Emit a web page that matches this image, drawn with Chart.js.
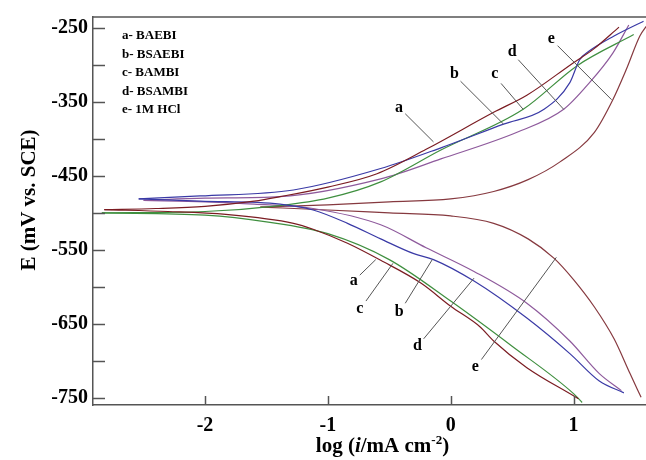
<!DOCTYPE html>
<html>
<head>
<meta charset="utf-8">
<script src="https://cdn.jsdelivr.net/npm/chart.js@4.4.1/dist/chart.umd.min.js"></script>
<style>
  html, body { margin: 0; padding: 0; background: #fff; }
  #wrap { width: 646px; height: 460px; }
</style>
</head>
<body>
<div id="wrap"><canvas id="tafel"></canvas></div>
<script>
// ---------- Data (log i in mA cm-2, E in mV vs SCE) ----------
// each curve = cathodic branch + anodic branch, both starting at Ecorr
var aCathLogI = [-2.82, -2.3, -1.83, -1.28, -1.12, -0.84, -0.57, -0.24, 0, 0.24, 0.35, 0.62, 1.0, 1.04];
var aCathE    = [-495.6, -498, -502, -514, -522, -541, -564, -595, -626, -654, -673, -709, -747, -751];
var aAnodLogI = [-2.82, -2.4, -2.0, -1.6, -1.39, -1.0, -0.6, -0.2, 0.35, 0.62, 1.0, 1.16, 1.37];
var aAnodE    = [-495.6, -494, -491, -484, -478, -465, -447, -414, -364, -341, -297, -279, -249];

var bCathLogI = [-2.54, -2.04, -1.39, -1.12, -0.84, -0.57, -0.30, -0.14, 0.19, 0.62, 0.97, 1.21, 1.41];
var bCathE    = [-481, -484, -488, -496, -514, -535, -555, -563, -592, -642, -690, -727, -743];
var bAnodLogI = [-2.54, -2.04, -1.28, -0.57, -0.08, 0.43, 0.76, 0.97, 1.05, 1.13, 1.33, 1.57];
var bAnodE    = [-481, -477, -469, -440, -412, -380, -360, -324, -293, -281, -261, -241];

var cCathLogI = [-2.84, -2.0, -1.5, -1.0, -0.5, 0, 0.5, 1.0, 1.07];
var cCathE    = [-500, -503, -512, -528, -563, -619, -680, -744, -756];
var cAnodLogI = [-2.84, -2.0, -1.39, -1.0, -0.57, -0.08, 0.59, 1.03, 1.49];
var cAnodE    = [-500, -498, -490, -480, -458, -415, -360, -301, -259];

var dCathLogI = [-2.5, -2.0, -1.6, -1.12, -0.57, -0.2, 0.19, 0.62, 0.97, 1.21, 1.39];
var dCathE    = [-483, -485, -488, -494, -516, -547, -579, -622, -673, -717, -740];
var dAnodLogI = [-2.5, -2.0, -1.39, -0.57, -0.08, 0.54, 0.92, 1.13, 1.32, 1.45];
var dAnodE    = [-483, -480, -478, -454, -427, -391, -360, -324, -284, -246];

var eCathLogI = [-1.55, -1.0, -0.5, 0, 0.35, 0.63, 0.84, 1.0, 1.17, 1.33, 1.46, 1.55];
var eCathE    = [-492, -496, -500, -504, -514, -535, -561, -590, -627, -670, -717, -749];
var eAnodLogI = [-1.55, -1.0, -0.5, 0, 0.35, 0.63, 0.89, 1.17, 1.32, 1.43, 1.54, 1.6];
var eAnodE    = [-492, -489, -485, -481, -471, -455, -431, -391, -347, -306, -261, -246];

var seriesKeys  = ['a', 'b', 'c', 'd', 'e'];
var seriesNames = ['BAEBI', 'BSAEBI', 'BAMBI', 'BSAMBI', '1M HCl'];
var seriesColors = ['#7b1c22', '#3a3aa6', '#3f8f3f', '#8e5a9c', '#86393f'];

// axis ticks
var xTickValues = [-2, -1, 0, 1];
var yTickValues = [-750, -700, -650, -600, -550, -500, -450, -400, -350, -300, -250];
var yLabelValues = [-750, -650, -550, -450, -350, -250];
var X_MIN = -2.912, X_MAX = 1.59;
var Y_MIN = -759.4, Y_MAX = -235.3;

// curve labels with pointer lines (data coordinates)
var noteText  = ['a', 'b', 'c', 'd', 'e', 'a', 'c', 'b', 'd', 'e'];
var noteX     = [-0.42, 0.03, 0.36, 0.50, 0.82, -0.79, -0.74, -0.42, -0.27, 0.20];
var noteY     = [-358, -312, -312, -282, -265, -592, -630, -633, -680, -708];
var noteFromX = [-0.37, 0.08, 0.41, 0.55, 0.87, -0.74, -0.69, -0.37, -0.22, 0.25];
var noteFromY = [-366, -322, -325, -293, -274, -584, -619, -622, -670, -698];
var noteToX   = [-0.14, 0.43, 0.59, 0.92, 1.31, -0.61, -0.47, -0.15, 0.19, 0.86];
var noteToY   = [-404, -380, -360, -360, -347, -563, -568, -563, -588, -560];

// ---------- Helpers ----------
var SERIF = "'Liberation Serif', 'Times New Roman', serif";

function toPoints(xs, ys) {
  return xs.map(function (x, i) { return { x: x, y: ys[i] }; });
}

var branches = [
  [aCathLogI, aCathE, aAnodLogI, aAnodE],
  [bCathLogI, bCathE, bAnodLogI, bAnodE],
  [cCathLogI, cCathE, cAnodLogI, cAnodE],
  [dCathLogI, dCathE, dAnodLogI, dAnodE],
  [eCathLogI, eCathE, eAnodLogI, eAnodE],
];

function branchSet(i, xs, ys, part) {
  return {
    label: seriesKeys[i] + '- ' + seriesNames[i] + ' ' + part,
    data: toPoints(xs, ys),
    showLine: true,
    borderColor: seriesColors[i],
    backgroundColor: seriesColors[i],
    borderWidth: 1.2,
    pointRadius: 0,
    cubicInterpolationMode: 'monotone',
  };
}

var datasets = [];
branches.forEach(function (b, i) {
  datasets.push(branchSet(i, b[0], b[1], 'cathodic'));
  datasets.push(branchSet(i, b[2], b[3], 'anodic'));
});

// ---------- Decorations: inner ticks, frame, notes, legend text, titles ----------
var decor = {
  id: 'decor',
  afterDatasetsDraw: function (chart) {
    var ctx = chart.ctx, xs = chart.scales.x, ys = chart.scales.y, area = chart.chartArea;
    ctx.save();

    // pointer lines + letters
    ctx.strokeStyle = '#555';
    ctx.lineWidth = 1;
    ctx.fillStyle = '#000';
    ctx.font = 'bold 16px ' + SERIF;
    ctx.textAlign = 'center';
    ctx.textBaseline = 'middle';
    noteText.forEach(function (t, i) {
      ctx.beginPath();
      ctx.moveTo(xs.getPixelForValue(noteFromX[i]), ys.getPixelForValue(noteFromY[i]));
      ctx.lineTo(xs.getPixelForValue(noteToX[i]), ys.getPixelForValue(noteToY[i]));
      ctx.stroke();
      ctx.fillText(t, xs.getPixelForValue(noteX[i]), ys.getPixelForValue(noteY[i]));
    });

    // legend block (plain text list)
    ctx.font = 'bold 13px ' + SERIF;
    ctx.textAlign = 'left';
    seriesKeys.forEach(function (k, i) {
      ctx.fillText(k + '- ' + seriesNames[i], area.left + 29, area.top + 19 + i * 18.5);
    });

    // inner tick marks
    ctx.strokeStyle = '#555';
    ctx.lineWidth = 1.5;
    yTickValues.forEach(function (v) {
      var y = Math.round(ys.getPixelForValue(v)) + 0.5;
      ctx.beginPath();
      ctx.moveTo(area.left, y);
      ctx.lineTo(area.left + 12, y);
      ctx.stroke();
    });
    xTickValues.forEach(function (v) {
      var x = Math.round(xs.getPixelForValue(v)) + 0.5;
      ctx.beginPath();
      ctx.moveTo(x, area.bottom);
      ctx.lineTo(x, area.bottom - 9);
      ctx.stroke();
    });

    // top frame line
    ctx.beginPath();
    ctx.moveTo(area.left, area.top);
    ctx.lineTo(area.right, area.top);
    ctx.stroke();

    // x title: log (i/mA cm-2) with italic i and superscript
    var parts = [
      { t: 'log (', f: 'bold 21px ' + SERIF, dy: 0 },
      { t: 'i', f: 'italic bold 21px ' + SERIF, dy: 0 },
      { t: '/mA cm', f: 'bold 21px ' + SERIF, dy: 0 },
      { t: '-2', f: 'bold 13px ' + SERIF, dy: -8 },
      { t: ')', f: 'bold 21px ' + SERIF, dy: 0 },
    ];
    var total = 0;
    parts.forEach(function (p) { ctx.font = p.f; p.w = ctx.measureText(p.t).width; total += p.w; });
    var px = (area.left + area.right) / 2 + 13 - total / 2;
    ctx.textBaseline = 'alphabetic';
    parts.forEach(function (p) {
      ctx.font = p.f;
      ctx.fillText(p.t, px, 452 + p.dy);
      px += p.w;
    });

    // y title
    ctx.translate(30, (area.top + area.bottom) / 2 - 11);
    ctx.rotate(-Math.PI / 2);
    ctx.font = 'bold 21px ' + SERIF;
    ctx.textAlign = 'center';
    ctx.textBaseline = 'middle';
    ctx.fillText('E (mV vs. SCE)', 0, 0);

    ctx.restore();
  },
};

// ---------- Chart ----------
var tickFont = { family: SERIF, size: 20, weight: 'bold' };

new Chart(document.getElementById('tafel'), {
  type: 'scatter',
  data: { datasets: datasets },
  options: {
    responsive: true,
    maintainAspectRatio: false,
    animation: false,
    layout: { padding: { top: 14, right: 0, left: 0, bottom: 0 } },
    plugins: {
      legend: { display: false },
      tooltip: { enabled: false },
    },
    scales: {
      x: {
        type: 'linear',
        min: X_MIN,
        max: X_MAX,
        afterFit: function (s) { s.height = 55; },
        afterBuildTicks: function (s) { s.ticks = xTickValues.map(function (v) { return { value: v }; }); },
        grid: { display: true, drawOnChartArea: false, drawTicks: false },
        border: { display: true, color: '#555', width: 1.5 },
        ticks: { font: tickFont, color: '#000', padding: 9, maxRotation: 0 },
      },
      y: {
        type: 'linear',
        min: Y_MIN,
        max: Y_MAX,
        afterFit: function (s) { s.width = 93; },
        afterBuildTicks: function (s) { s.ticks = yLabelValues.map(function (v) { return { value: v }; }); },
        grid: { display: true, drawOnChartArea: false, drawTicks: false },
        border: { display: true, color: '#555', width: 1.5 },
        ticks: { font: tickFont, color: '#000', padding: 5 },
      },
    },
  },
  plugins: [decor],
});
</script>
</body>
</html>
